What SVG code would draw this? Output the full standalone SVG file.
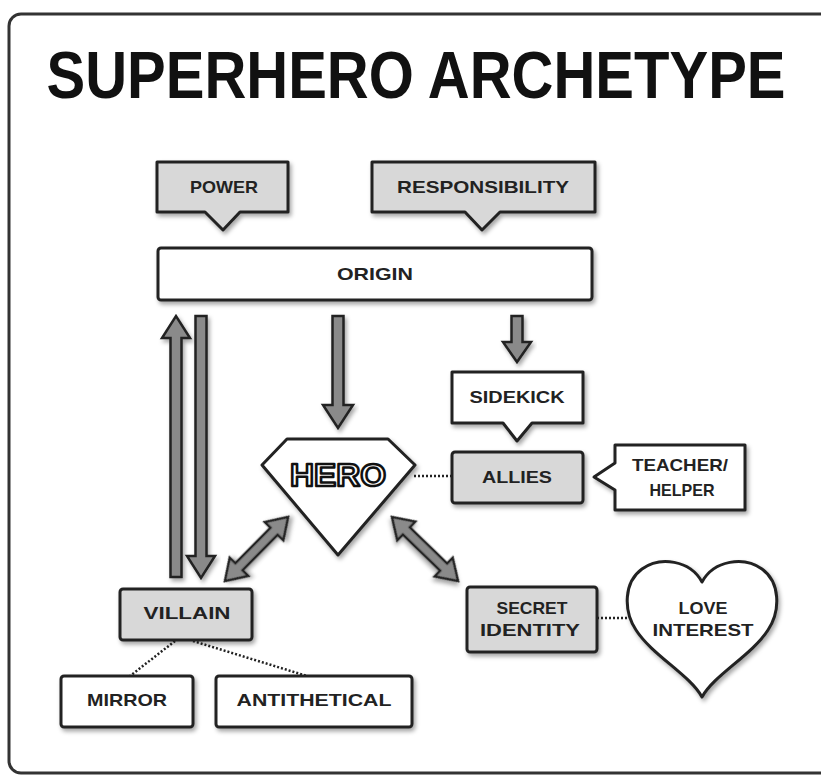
<svg xmlns="http://www.w3.org/2000/svg" width="821" height="776" viewBox="0 0 821 776">
<defs>
<filter id="sh" x="-20%" y="-20%" width="140%" height="150%">
<feDropShadow dx="2" dy="3" stdDeviation="2" flood-color="#000" flood-opacity="0.35"/>
</filter>
<style>
.box{stroke:#222;stroke-width:3;stroke-linejoin:round;filter:url(#sh)}
.gray{fill:#d8d8d8}
.white{fill:#fff}
.arr{fill:#8a8a8a;stroke:#222;stroke-width:2.5;stroke-linejoin:miter;filter:url(#sh)}
.dot{stroke:#222;stroke-width:2.5;stroke-dasharray:2 2;fill:none}
.t{font-family:"Liberation Sans","DejaVu Sans",sans-serif;font-weight:bold;font-size:17px;fill:#222;text-anchor:middle}
</style>
</defs>
<rect x="9" y="14" width="840" height="759" rx="12" fill="#fff" stroke="#333" stroke-width="3"/>
<text x="416" y="86" transform="scale(1,1.14)" font-family="'Liberation Sans','DejaVu Sans',sans-serif" font-weight="bold" font-size="58" fill="#111" text-anchor="middle">SUPERHERO ARCHETYPE</text>

<g id="connectors">
<polygon class="arr" points="170.5,577 170.5,338 162,338 176,316 190,338 181.5,338 181.5,577"/>
<polygon class="arr" points="195.5,316 195.5,556 187,556 201,578 215,556 206.5,556 206.5,316"/>
<polygon class="arr" points="332.5,316 332.5,405 323,405 338,428 353,405 343.5,405 343.5,316"/>
<polygon class="arr" points="511.5,316 511.5,342 503,342 517,362 531,342 522.5,342 522.5,316"/>
<polygon class="arr" transform="translate(256.5,549) rotate(-45.4)" points="-45,0 -25,-13 -25,-5 25,-5 25,-13 45,0 25,13 25,5 -25,5 -25,13"/>
<polygon class="arr" transform="translate(425,549) rotate(44.1)" points="-46,0 -26,-13 -26,-5 26,-5 26,-13 46,0 26,13 26,5 -26,5 -26,13"/>
<line class="dot" x1="414" y1="476" x2="452" y2="476"/>
<line class="dot" x1="597" y1="618" x2="629" y2="618"/>
<line class="dot" x1="175" y1="641" x2="130" y2="676"/>
<line class="dot" x1="193" y1="641" x2="307" y2="676"/>
</g>

<g id="power">
<path class="box gray" d="M157,162 H288 V212 H240 L223,230 L205,212 H157 Z"/>
<text class="t" x="224" y="193" textLength="68" lengthAdjust="spacingAndGlyphs">POWER</text>
</g>
<g id="responsibility">
<path class="box gray" d="M372,162 H595 V212 H500 L482,230 L465,212 H372 Z"/>
<text class="t" x="483" y="193" textLength="172" lengthAdjust="spacingAndGlyphs">RESPONSIBILITY</text>
</g>
<g id="origin">
<rect class="box white" x="158" y="248" width="434" height="52" rx="3"/>
<text class="t" x="375" y="280" textLength="76" lengthAdjust="spacingAndGlyphs">ORIGIN</text>
</g>
<g id="sidekick">
<path class="box white" d="M452,372 H583 V423 H532 L517,441 L503,423 H452 Z"/>
<text class="t" x="517" y="403" textLength="95" lengthAdjust="spacingAndGlyphs">SIDEKICK</text>
</g>
<g id="hero">
<polygon class="box white" points="287,439 388,439 415,465 338,555 262,465"/>
<text x="338" y="486" font-family="'Liberation Sans','DejaVu Sans',sans-serif" font-weight="bold" font-size="32" fill="#fff" stroke="#111" stroke-width="2.5" stroke-linejoin="round" text-anchor="middle" textLength="96" lengthAdjust="spacingAndGlyphs">HERO</text>
</g>
<g id="allies">
<rect class="box gray" x="452" y="452" width="131" height="51" rx="3"/>
<text class="t" x="517" y="483" textLength="70" lengthAdjust="spacingAndGlyphs">ALLIES</text>
</g>
<g id="teacher">
<path class="box white" d="M615,445 H745 V510 H615 V490 L594,477 L615,463 Z"/>
<text class="t" x="680" y="471" textLength="96" lengthAdjust="spacingAndGlyphs">TEACHER/</text>
<text class="t" x="682" y="496" textLength="65" lengthAdjust="spacingAndGlyphs">HELPER</text>
</g>
<g id="villain">
<rect class="box gray" x="120" y="589" width="132" height="51" rx="3"/>
<text class="t" x="187" y="619" textLength="87" lengthAdjust="spacingAndGlyphs">VILLAIN</text>
</g>
<g id="secret">
<rect class="box gray" x="467" y="587" width="130" height="65" rx="3"/>
<text class="t" x="532" y="614" textLength="71" lengthAdjust="spacingAndGlyphs">SECRET</text>
<text class="t" x="530" y="636" textLength="100" lengthAdjust="spacingAndGlyphs">IDENTITY</text>
</g>
<g id="love">
<path class="box white" d="M702,582 C690,560 660,556 642,569 C624,582 623,610 636,630 C652,655 690,675 702,697 C714,675 752,655 768,630 C781,610 780,582 762,569 C744,556 714,560 702,582 Z"/>
<text class="t" x="703" y="614" textLength="49" lengthAdjust="spacingAndGlyphs">LOVE</text>
<text class="t" x="703" y="636" textLength="101" lengthAdjust="spacingAndGlyphs">INTEREST</text>
</g>
<g id="mirror">
<rect class="box white" x="61" y="676" width="132" height="51" rx="3"/>
<text class="t" x="127" y="706" textLength="80" lengthAdjust="spacingAndGlyphs">MIRROR</text>
</g>
<g id="antithetical">
<rect class="box white" x="216" y="676" width="196" height="51" rx="3"/>
<text class="t" x="314" y="706" textLength="155" lengthAdjust="spacingAndGlyphs">ANTITHETICAL</text>
</g>
</svg>
